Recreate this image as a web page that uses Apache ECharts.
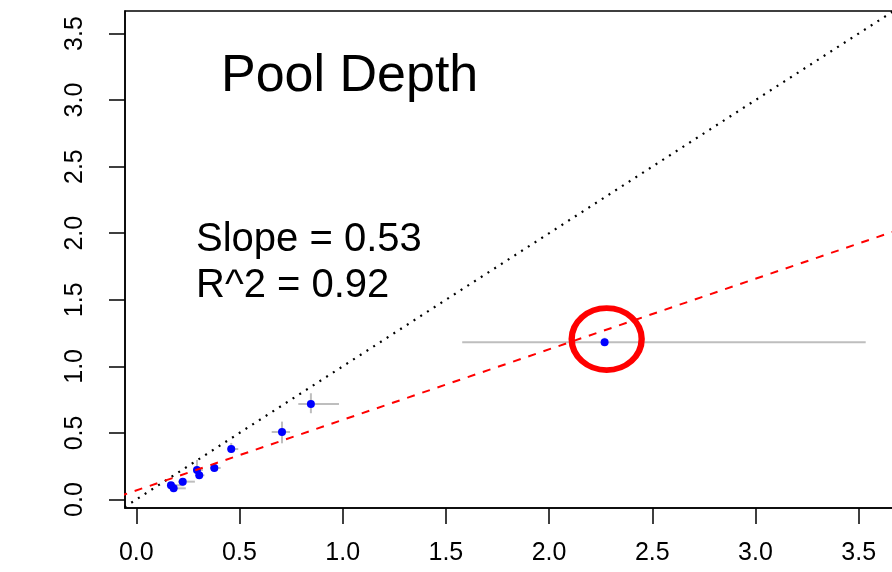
<!DOCTYPE html>
<html>
<head>
<meta charset="utf-8">
<script src="https://cdn.jsdelivr.net/npm/echarts@6/dist/echarts.min.js"></script>
<style>html,body{margin:0;padding:0;background:#fff}#c{width:892px;height:572px}</style>
</head>
<body>
<div id="c"></div>
<script>
// ---- data ----
var xVal  = [0.168, 0.181, 0.225, 0.294, 0.305, 0.378, 0.460, 0.706, 0.846, 2.269];
var yVal  = [0.107, 0.084, 0.134, 0.222, 0.182, 0.237, 0.379, 0.507, 0.717, 1.181];
var xLow  = [0.160, 0.175, 0.202, 0.275, 0.300, 0.357, 0.440, 0.656, 0.785, 1.579];
var xHigh = [0.230, 0.240, 0.284, 0.323, 0.330, 0.409, 0.494, 0.745, 0.982, 3.534];
var yLow  = [0.095, 0.075, 0.125, 0.184, 0.175, 0.230, 0.350, 0.422, 0.648, 1.170];
var yHigh = [0.120, 0.095, 0.145, 0.297, 0.190, 0.245, 0.425, 0.585, 0.798, 1.215];
var tickValues = [0.0, 0.5, 1.0, 1.5, 2.0, 2.5, 3.0, 3.5];
var fitSlope = 0.53;
var fitIntercept = 0.068;
var highlighted = [[2.279, 1.205]];
var titleText = 'Pool Depth';
var slopeText = 'Slope = 0.53';
var r2Text = 'R^2 = 0.92';

var X_MIN = -0.0547, X_MAX = 3.75, Y_MIN = -0.0638, Y_MAX = 3.669;
var FONT = '"Liberation Sans", Arial, Helvetica, sans-serif';

var points = xVal.map(function (x, i) { return [x, yVal[i]]; });
var errData = xVal.map(function (x, i) { return [x, yVal[i], xLow[i], xHigh[i], yLow[i], yHigh[i]]; });
var oneToOne = [[X_MIN - 0.1, X_MIN - 0.1], [X_MAX + 0.1, X_MAX + 0.1]];
var fitLine = [[X_MIN - 0.1, fitIntercept + fitSlope * (X_MIN - 0.1)], [X_MAX + 0.1, fitIntercept + fitSlope * (X_MAX + 0.1)]];

function axisCommon(isY) {
  return {
    type: 'value',
    min: isY ? Y_MIN : X_MIN,
    max: isY ? Y_MAX : X_MAX,
    splitLine: { show: false },
    axisLine: { show: true, onZero: false, lineStyle: { color: '#000', width: 1.5 } },
    axisTick: { show: true, inside: false, length: 16, customValues: tickValues, lineStyle: { color: '#000', width: 1.5 } },
    axisLabel: {
      show: true, customValues: tickValues, color: '#000', fontSize: 25, fontFamily: FONT,
      margin: isY ? 37 : 33, rotate: isY ? 90 : 0,
      formatter: function (v) { return Number(v).toFixed(1); }
    }
  };
}

var chart = echarts.init(document.getElementById('c'), null, { renderer: 'canvas' });
chart.setOption({
  animation: false,
  backgroundColor: '#fff',
  grid: { left: 125, top: 11, width: (X_MAX - X_MIN) * 206.4, height: 497, outerBoundsMode: 'none', containLabel: false,
          show: true, borderColor: '#000', borderWidth: 1.5, backgroundColor: 'transparent' },
  xAxis: axisCommon(false),
  yAxis: axisCommon(true),
  graphic: [
    { type: 'text', left: 221, top: 51, style: { text: titleText, font: '52px ' + FONT, fill: '#000' } },
    { type: 'text', left: 196, top: 220, style: { text: slopeText, font: '40px ' + FONT, fill: '#000' } },
    { type: 'text', left: 196, top: 266, style: { text: r2Text, font: '40px ' + FONT, fill: '#000' } }
  ],
  series: [
    { type: 'line', data: oneToOne, symbol: 'none', clip: true, silent: true,
      lineStyle: { color: '#000', width: 2.2, type: [2, 6] } },
    { type: 'line', data: fitLine, symbol: 'none', clip: true, silent: true,
      lineStyle: { color: '#ff0000', width: 2, type: [8, 8] } },
    { type: 'custom', data: errData, clip: true, silent: true,
      renderItem: function (params, api) {
        var xl = api.coord([api.value(2), api.value(1)]);
        var xh = api.coord([api.value(3), api.value(1)]);
        var yl = api.coord([api.value(0), api.value(4)]);
        var yh = api.coord([api.value(0), api.value(5)]);
        var st = { stroke: '#bebebe', lineWidth: 2 };
        return { type: 'group', children: [
          { type: 'line', shape: { x1: xl[0], y1: xl[1], x2: xh[0], y2: xh[1] }, style: st },
          { type: 'line', shape: { x1: yl[0], y1: yl[1], x2: yh[0], y2: yh[1] }, style: st }
        ] };
      }
    },
    { type: 'scatter', data: points, symbol: 'circle', symbolSize: 8, silent: true,
      itemStyle: { color: '#0000ff', opacity: 1 } },
    { type: 'scatter', data: highlighted, symbol: 'circle', symbolSize: [70, 62], silent: true,
      itemStyle: { color: 'rgba(0,0,0,0)', borderColor: '#ff0000', borderWidth: 6, opacity: 1 } }
  ]
});
</script>
</body>
</html>
